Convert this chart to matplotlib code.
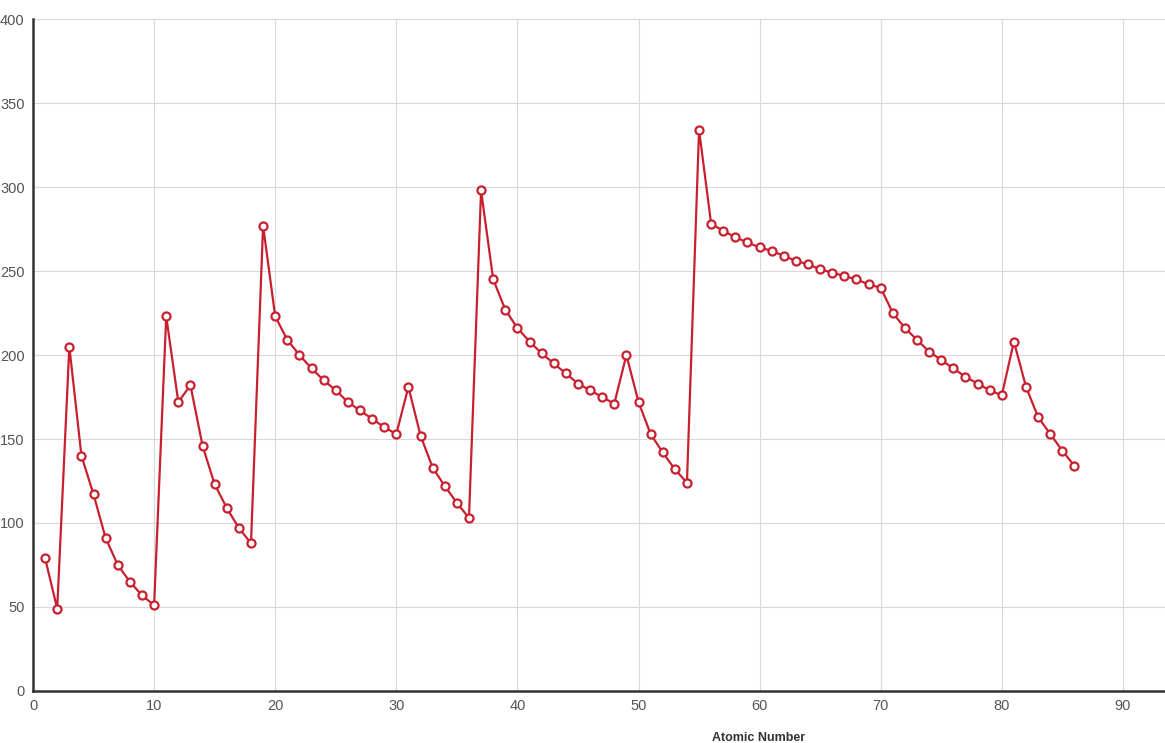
import matplotlib
matplotlib.use("Agg")
import matplotlib.pyplot as plt

atomic_number = list(range(1, 87))
radius = [79, 49, 205, 140, 117, 91, 75, 65, 57, 51,
          223, 172, 182, 146, 123, 109, 97, 88,
          277, 223, 209, 200, 192, 185, 179, 172, 167, 162, 157, 153,
          181, 152, 133, 122, 112, 103,
          298, 245, 227, 216, 208, 201, 195, 189, 183, 179, 175, 171,
          200, 172, 153, 142, 132, 124,
          334, 278, 274, 270, 267, 264, 262, 259, 256, 254, 251, 249, 247, 245, 242, 240,
          225, 216, 209, 202, 197, 192, 187, 183, 179, 176,
          208, 181, 163, 153, 143, 134]
x_ticks = [0, 10, 20, 30, 40, 50, 60, 70, 80, 90]
y_ticks = [0, 50, 100, 150, 200, 250, 300, 350, 400]

plt.rcParams['font.family'] = ['Liberation Sans', 'DejaVu Sans']

fig = plt.figure(figsize=(11.65, 7.43), dpi=100)
ax = fig.add_axes([33/1165, 1-691/743, (1165-33)/1165, (691-19)/743])

red = '#c8202f'
ax.plot(atomic_number, radius, color=red, lw=1.6, marker='o', ms=5.8,
        mfc='white', mec=red, mew=1.6, zorder=3, clip_on=False)

ax.set_xlim(0, (1165-33)/12.11)
ax.set_ylim(0, 400)
ax.set_xticks(x_ticks)
ax.set_yticks(y_ticks)
ax.grid(True, color='#d9d9d9', lw=0.8)
ax.set_axisbelow(True)
ax.tick_params(length=0, labelsize=10.5, colors='#555555', pad=6)
for s in ['top', 'right']:
    ax.spines[s].set_visible(False)
for s in ['left', 'bottom']:
    ax.spines[s].set_color('#333333')
    ax.spines[s].set_linewidth(1.8)

ax.set_xlabel('Atomic Number', fontsize=9, fontweight='bold', color='#333333')
ax.xaxis.set_label_coords((759-33)/1132, -41/672)

fig.savefig('out.png', dpi=100)
